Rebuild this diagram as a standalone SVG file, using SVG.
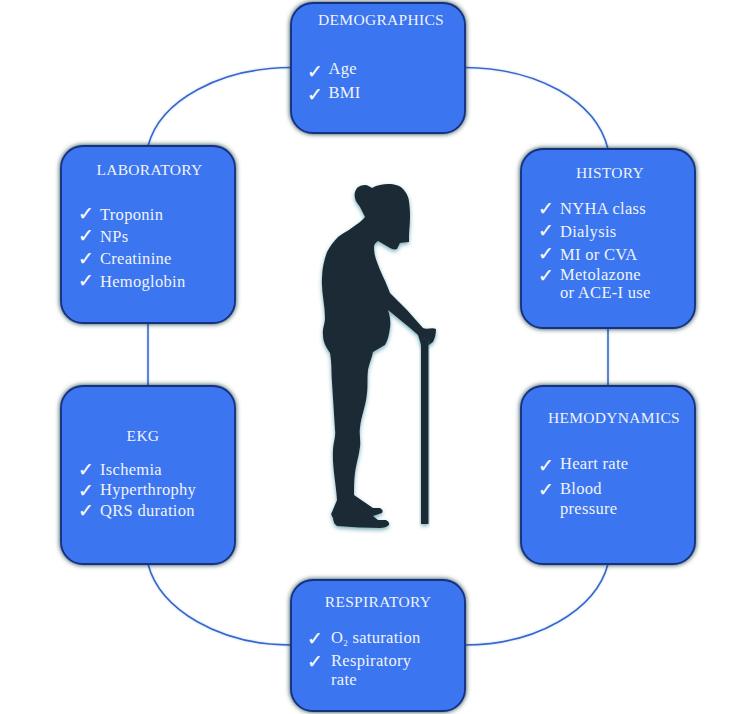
<svg xmlns="http://www.w3.org/2000/svg" width="756" height="714" viewBox="0 0 756 714">
<style>
.box{fill:#3b75f0;stroke:#14307e;stroke-width:1.8;filter:url(#glow)}
.link{fill:none;stroke:#3068d0;stroke-width:1.6;filter:url(#lineglow)}
text{font-family:"Liberation Serif","Times New Roman",serif;font-size:16.500px;fill:#f0f3fb;letter-spacing:.3px}
.title{text-anchor:middle;font-size:15.500px}
.ck{font-family:"DejaVu Sans",sans-serif;font-size:19px;fill:#fff;stroke:#fff;stroke-width:.2;letter-spacing:0}
.fig{fill:#1f2b35;filter:url(#glow2)}
</style>
<defs>
<filter id="glow" x="-10%" y="-10%" width="120%" height="120%"><feDropShadow dx="0" dy="0" stdDeviation="2.500" flood-color="#14383e" flood-opacity="1"/></filter>
<filter id="glow2" x="-15%" y="-10%" width="130%" height="120%"><feDropShadow dx="0" dy="2" stdDeviation="2" flood-color="#3f8a96" flood-opacity=".7"/></filter>
<filter id="lineglow" x="0" y="0" width="756" height="714" filterUnits="userSpaceOnUse"><feDropShadow dx="0" dy="0" stdDeviation="1" flood-color="#9fb8d8" flood-opacity=".6"/></filter>
</defs>
<g id="connectors">
<path class="link" d="M291 67.500C220 68 160 100 148 146"/>
<path class="link" d="M465 67.500C536 68 596 100 608 149"/>
<path class="link" d="M148 323V386"/>
<path class="link" d="M608 328V386"/>
<path class="link" d="M148 564C160 610 220 645 291 645"/>
<path class="link" d="M608 564C596 610 536 645 465 645"/>
</g>
<g id="figure">
<path class="fig" d="M372 188C377 185 383 184 388 184C395 184 400 186 402 188C407 193 409 198 409 202C410 208 410 213 410 218C410 225 409 231 409 237L409 242L400 243L397 249C394 250 392 249 390 248C386 246 382 243 378 241C375 243 374 245 374 247C374 252 375 257 377 262C380 271 385 280 388 288L390 293L407 310L423 328C427 330 432 327 436 329C436 334 435 338 433 342L429 345H421L418 335L410 328L388 310C390 316 391 322 390 328C389 335 388 340 385 345L373 352C372 358 369 364 368 370C367 378 368 386 367 393C366 406 361 416 360 428C359 434 361 441 360 447C359 456 356 464 355 473C354 481 354 488 354 495L373 508L380 508Q384 510 382 513L373 516L378 520H386Q390 522 389 525Q386 528 380 528C366 528 351 527 337 526Q333 523 333 518Q330 514 332 512L337 500C336 484 332 466 333 450C333 443 336 437 335 430C334 414 333 399 332 383C331 373 332 363 330 353C326 347 323 342 323 335C322 329 325 324 325 318C325 305 321 291 322 278C322 269 324 260 327 252C330 246 334 241 338 237C343 233 348 231 353 227C357 224 362 221 365 217L360 207C358 204 355 201 355 198C354 194 355 191 357 188C359 186 362 185 365 185C368 185 370 187 372 188Z"/>
<rect class="fig" x="421" y="340" width="7.500" height="184"/>
</g>
<g id="demographics">
<rect class="box" x="291" y="3" width="174" height="130" rx="22"/>
<text class="title" x="381" y="25">DEMOGRAPHICS</text>
<text class="ck" x="307" y="78">✓</text><text x="328.500" y="74">Age</text>
<text class="ck" x="307" y="101">✓</text><text x="328.500" y="98">BMI</text>
</g>
<g id="laboratory">
<rect class="box" x="61" y="146" width="174" height="177" rx="22"/>
<text class="title" x="149.500" y="175">LABORATORY</text>
<text class="ck" x="78" y="220">✓</text><text x="100" y="220">Troponin</text>
<text class="ck" x="78" y="242">✓</text><text x="100" y="242">NPs</text>
<text class="ck" x="78" y="265">✓</text><text x="100" y="264">Creatinine</text>
<text class="ck" x="78" y="287">✓</text><text x="100" y="287">Hemoglobin</text>
</g>
<g id="history">
<rect class="box" x="521" y="149" width="174" height="179" rx="22"/>
<text class="title" x="610" y="178">HISTORY</text>
<text class="ck" x="538" y="215">✓</text><text x="560" y="214">NYHA class</text>
<text class="ck" x="538" y="237">✓</text><text x="560" y="237">Dialysis</text>
<text class="ck" x="538" y="260">✓</text><text x="560" y="260">MI or CVA</text>
<text class="ck" x="538" y="282">✓</text><text x="560" y="280">Metolazone</text>
<text x="560" y="298">or ACE-I use</text>
</g>
<g id="ekg">
<rect class="box" x="61" y="386" width="174" height="178" rx="22"/>
<text class="title" x="143" y="441">EKG</text>
<text class="ck" x="78" y="476">✓</text><text x="100" y="475">Ischemia</text>
<text class="ck" x="78" y="497">✓</text><text x="100" y="495">Hyperthrophy</text>
<text class="ck" x="78" y="517">✓</text><text x="100" y="516">QRS duration</text>
</g>
<g id="hemodynamics">
<rect class="box" x="521" y="386" width="174" height="178" rx="22"/>
<text class="title" x="614" y="423">HEMODYNAMICS</text>
<text class="ck" x="538" y="472">✓</text><text x="560" y="469">Heart rate</text>
<text class="ck" x="538" y="496">✓</text><text x="560" y="494">Blood</text>
<text x="560" y="514">pressure</text>
</g>
<g id="respiratory">
<rect class="box" x="291" y="580" width="174" height="131" rx="22"/>
<text class="title" x="378" y="607">RESPIRATORY</text>
<text class="ck" x="307" y="645">✓</text><text x="331" y="643">O<tspan font-size="9" dy="3">2</tspan><tspan dy="-3"> saturation</tspan></text>
<text class="ck" x="307" y="668">✓</text><text x="331" y="666">Respiratory</text>
<text x="331" y="685">rate</text>
</g>
</svg>
